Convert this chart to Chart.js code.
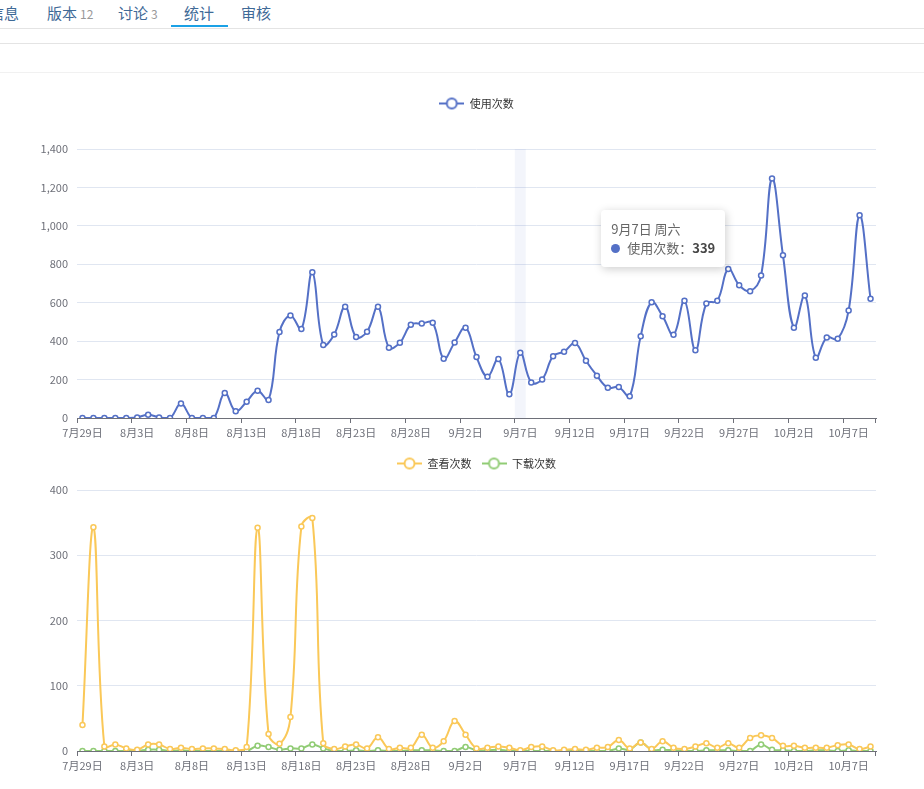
<!DOCTYPE html>
<html>
<head>
<meta charset="utf-8">
<title>统计</title>
<script src="https://cdn.jsdelivr.net/npm/chart.js@4.4.1/dist/chart.umd.min.js"></script>
<style>
	body { margin: 0; background: #fff; font-family: 'Noto Sans CJK SC', 'Microsoft YaHei', sans-serif; }
	#page { position: relative; width: 924px; height: 789px; overflow: hidden; }
	.rule { position: absolute; left: 0; width: 924px; height: 0; }
	.tab { position: absolute; top: 3px; font-size: 15px; line-height: 20px; color: #3f6a97; white-space: nowrap; }
	.tab span { font-size: 12px; color: #999; margin-left: 3px; }
	.tab.active:after { content: ''; position: absolute; left: -13px; right: -14px; top: 22px; height: 2px; background: #1ba1e6; }
	.wrap { position: absolute; left: 0; width: 924px; }
	#tip { position: absolute; display: none; background: #fff; border-radius: 4px; padding: 10px; box-shadow: 1px 2px 10px rgba(0,0,0,0.2); font-size: 13px; color: #666; white-space: nowrap; z-index: 5; }
	#tip .t { line-height: 18px; }
	#tip .r { line-height: 18px; margin-top: 1px; }
	#tip .dot { display: inline-block; width: 9px; height: 9px; border-radius: 50%; margin-right: 7px; vertical-align: 0; }
	#tip b { font-weight: 600; color: #464646; }
</style>
</head>
<body>
<div id="page">
	<div class="rule" style="top:28px;border-top:1px solid #e4e4e4"></div>
	<div class="rule" style="top:43px;border-top:1px solid #e4e4e4"></div>
	<div class="rule" style="top:72px;border-top:1px solid #f1f1f1"></div>
	<div class="tab" style="left:-11px">信息</div>
	<div class="tab" style="left:47px">版本<span>12</span></div>
	<div class="tab" style="left:118px">讨论<span>3</span></div>
	<div class="tab active" style="left:184px">统计</div>
	<div class="tab" style="left:241px">审核</div>

	<div class="wrap" id="wrap1" style="top:80px;height:360px"><canvas id="usage"></canvas></div>
	<div class="wrap" id="wrap2" style="top:440px;height:333px"><canvas id="views"></canvas></div>
	<div id="tip"></div>
</div>

<script>
var YEAR = 2024;

var days = [
	'7月29日','7月30日','7月31日',
	'8月1日','8月2日','8月3日','8月4日','8月5日','8月6日','8月7日','8月8日','8月9日','8月10日',
	'8月11日','8月12日','8月13日','8月14日','8月15日','8月16日','8月17日','8月18日','8月19日','8月20日',
	'8月21日','8月22日','8月23日','8月24日','8月25日','8月26日','8月27日','8月28日','8月29日','8月30日','8月31日',
	'9月1日','9月2日','9月3日','9月4日','9月5日','9月6日','9月7日','9月8日','9月9日','9月10日',
	'9月11日','9月12日','9月13日','9月14日','9月15日','9月16日','9月17日','9月18日','9月19日','9月20日',
	'9月21日','9月22日','9月23日','9月24日','9月25日','9月26日','9月27日','9月28日','9月29日','9月30日',
	'10月1日','10月2日','10月3日','10月4日','10月5日','10月6日','10月7日','10月8日','10月9日'
];

// 使用次数
var usageCounts = [
	0, 0, 0,
	0, 0, 3, 17, 3, 0, 75, 0, 0, 0,
	130, 35, 85, 142, 94, 447, 534, 463, 759, 380,
	435, 579, 421, 449, 579, 366, 392, 485, 492, 496, 308,
	393, 470, 317, 215, 307, 123, 339, 185, 201, 322,
	345, 390, 298, 220, 158, 161, 113, 426, 603, 530,
	433, 610, 352, 596, 610, 776, 691, 660, 742, 1246,
	847, 470, 638, 314, 419, 412, 560, 1055, 620
];

// 查看次数
var viewCounts = [
	40, 343, 7,
	10, 4, 2, 10, 10, 3, 5, 3, 4, 4,
	3, 1, 6, 342, 26, 11, 52, 344, 357, 12,
	3, 7, 10, 4, 21, 3, 5, 5, 25, 5, 15,
	46, 25, 4, 5, 7, 5, 1, 6, 7, 1,
	2, 3, 2, 5, 6, 17, 4, 13, 3, 15,
	5, 3, 7, 12, 5, 12, 5, 20, 24, 20,
	8, 8, 5, 5, 5, 9, 10, 3, 7
];

// 下载次数
var downloadCounts = [
	0, 0, 0,
	0, 0, 0, 2, 2, 0, 1, 0, 0, 0,
	0, 0, 0, 8, 6, 2, 4, 4, 10, 4,
	0, 0, 1, 0, 1, 0, 0, 1, 1, 1, 0,
	0, 6, 1, 1, 2, 0, 0, 0, 0, 0,
	0, 0, 0, 0, 0, 4, 2, 13, 2, 2,
	1, 0, 0, 1, 1, 1, 0, 0, 10, 2,
	1, 0, 0, 1, 1, 0, 1, 0, 0
];

var usageTicks = { max: 1400, step: 200 };
var viewTicks = { max: 400, step: 100 };
var hoverDay = '9月7日';
var weekNames = ['周日','周一','周二','周三','周四','周五','周六'];

var BLUE = '#5470c6', YELLOW = '#fac858', GREEN = '#91cc75';
var AXIS = '#6e7079', GRID = '#e0e6f1';

Chart.defaults.font.family = "'Noto Sans CJK SC', 'Microsoft YaHei', sans-serif";
Chart.defaults.font.size = 11;
Chart.defaults.animation = false;

// "-o-" legend symbol like echarts emptyCircle
function legendIcon(color) {
	var c = document.createElement('canvas');
	c.width = 25; c.height = 14;
	var g = c.getContext('2d');
	g.strokeStyle = color;
	g.lineWidth = 2;
	g.beginPath(); g.moveTo(0, 7); g.lineTo(25, 7); g.stroke();
	g.beginPath(); g.arc(12.5, 7, 5, 0, Math.PI * 2);
	g.fillStyle = '#fff'; g.fill(); g.stroke();
	return c;
}

function series(label, data, color) {
	return {
		label: label,
		data: data,
		borderColor: color,
		backgroundColor: color,
		borderWidth: 2,
		tension: 0.4,
		pointRadius: 2.5,
		pointBorderWidth: 1.5,
		pointBackgroundColor: '#fff',
		pointBorderColor: color,
		pointHoverRadius: 2.5,
		_icon: legendIcon(color)
	};
}

// push the plot area down below the legend
var legendGap = {
	id: 'legendGap',
	afterInit: function (chart, args, opts) {
		var fit = chart.legend.fit;
		chart.legend.fit = function () {
			fit.call(this);
			this.height += opts.extra || 0;
		};
	}
};

// axisPointer shadow band behind the hovered day
var hoverBand = {
	id: 'hoverBand',
	beforeDatasetsDraw: function (chart) {
		var act = chart.tooltip ? chart.tooltip.getActiveElements() : [];
		if (!act.length) return;
		var xs = chart.scales.x, area = chart.chartArea, ctx = chart.ctx;
		var w = xs.width / chart.data.labels.length;
		var cx = xs.getPixelForValue(act[0].index);
		ctx.save();
		ctx.fillStyle = 'rgba(84,112,198,0.07)';
		ctx.fillRect(cx - w / 2, area.top, w, area.bottom - area.top);
		ctx.restore();
	}
};

function htmlTooltip(context) {
	var tt = context.tooltip, el = document.getElementById('tip');
	if (tt.opacity === 0 || !tt.dataPoints || !tt.dataPoints.length) { el.style.display = 'none'; return; }
	var p = tt.dataPoints[0];
	var md = p.label.match(/(\d+)月(\d+)日/);
	var wd = weekNames[new Date(YEAR, md[1] - 1, md[2]).getDay()];
	var html = '<div class="t">' + p.label + ' ' + wd + '</div>';
	tt.dataPoints.forEach(function (dp) {
		html += '<div class="r"><span class="dot" style="background:' + dp.dataset.borderColor + '"></span>' +
			dp.dataset.label + '：<b>' + dp.formattedValue + '</b></div>';
	});
	el.innerHTML = html;
	var wrap = context.chart.canvas.parentNode;
	el.style.left = (wrap.offsetLeft + tt.caretX + 20) + 'px';
	el.style.top = (wrap.offsetTop + tt.caretY + 20) + 'px';
	el.style.display = 'block';
}

Chart.Tooltip.positioners.cursor = function (items, eventPosition) {
	return eventPosition || false;
};

function makeOptions(ticks, extraGap) {
	return {
		responsive: true,
		maintainAspectRatio: false,
		layout: { padding: { top: 8, left: 0, right: 48, bottom: 0 } },
		interaction: { mode: 'index', intersect: false },
		events: [],
		scales: {
			x: {
				type: 'category',
				offset: true,
				afterFit: function (s) { s.height = 22; },
				border: { display: true, color: AXIS, width: 1 },
				grid: {
					display: true,
					offset: true,
					drawOnChartArea: false,
					drawTicks: true,
					tickLength: 5,
					tickColor: function (c) {
						return (c.index === undefined || c.index % 5 === 0) ? AXIS : 'rgba(0,0,0,0)';
					}
				},
				ticks: {
					autoSkip: false,
					maxRotation: 0,
					minRotation: 0,
					padding: 3,
					color: AXIS,
					callback: function (v, i) { return i % 5 === 0 ? this.getLabelForValue(v) : ''; }
				}
			},
			y: {
				min: 0,
				max: ticks.max,
				afterFit: function (s) { s.width = 77; },
				border: { display: false },
				grid: { color: GRID, drawTicks: false },
				ticks: {
					stepSize: ticks.step,
					padding: 9,
					color: AXIS,
					callback: function (v) { return Number(v).toLocaleString('en-US'); }
				}
			}
		},
		plugins: {
			legendGap: { extra: extraGap },
			legend: {
				position: 'top',
				fullSize: false,
				labels: {
					usePointStyle: true,
					pointStyleWidth: 25,
					padding: 10,
					color: '#333',
					generateLabels: function (chart) {
						var items = Chart.defaults.plugins.legend.labels.generateLabels(chart);
						items.forEach(function (it) { it.pointStyle = chart.data.datasets[it.datasetIndex]._icon; });
						return items;
					}
				}
			},
			tooltip: {
				enabled: false,
				position: 'cursor',
				external: htmlTooltip
			}
		}
	};
}

var usageChart = new Chart(document.getElementById('usage'), {
	type: 'line',
	data: { labels: days, datasets: [series('使用次数', usageCounts, BLUE)] },
	options: makeOptions(usageTicks, 30),
	plugins: [legendGap, hoverBand]
});

var viewChart = new Chart(document.getElementById('views'), {
	type: 'line',
	data: {
		labels: days,
		datasets: [
			series('查看次数', viewCounts, YELLOW),
			series('下载次数', downloadCounts, GREEN)
		]
	},
	options: makeOptions(viewTicks, 11),
	plugins: [legendGap]
});

// the screenshot was taken while hovering 9月7日
(function () {
	var idx = days.indexOf(hoverDay);
	var pt = usageChart.getDatasetMeta(0).data[idx];
	var area = usageChart.chartArea;
	usageChart.tooltip.setActiveElements(
		[{ datasetIndex: 0, index: idx }],
		{ x: pt.x + 61, y: area.top + 41 }
	);
	usageChart.draw();
})();
</script>
</body>
</html>
